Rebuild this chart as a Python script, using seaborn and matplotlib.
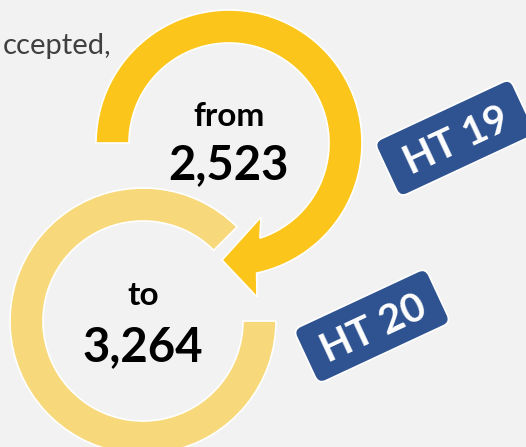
import numpy as np
import matplotlib
matplotlib.use('Agg')
import matplotlib.pyplot as plt
import seaborn as sns
from matplotlib.patches import Wedge, Polygon, FancyBboxPatch
from matplotlib.transforms import Affine2D

# values shown in the graphic
years = ['HT 19', 'HT 20']
values = [2523, 3264]
words = ['from', 'to']
caption = 'ccepted,'

ring_colors = ['#FCC51C', '#F7D97C']
badge_color = '#2F5391'
bg = '#F2F2F2'

sns.set_theme(style='white')
plt.rcParams['font.family'] = ['Lato', 'DejaVu Sans']

fig = plt.figure(figsize=(5.26, 4.47), dpi=100)
fig.patch.set_facecolor(bg)
ax = fig.add_axes([0, 0, 1, 1])
ax.set_xlim(0, 526)
ax.set_ylim(0, 447)
ax.set_facecolor(bg)
ax.axis('off')

R_OUT, R_IN = 133, 100

# lower (lighter) ring, drawn first
c2 = (143, 126)
ax.add_patch(Wedge(c2, R_OUT, 45, 360, width=R_OUT - R_IN,
                   facecolor=ring_colors[1], edgecolor='white', lw=1.2))

# upper ring with arrow head
c1 = (229, 304)
a_out = np.radians(np.linspace(180, -78, 200))
a_in = np.radians(np.linspace(-72, 180, 200))
outer = np.column_stack([c1[0] + R_OUT * np.cos(a_out), c1[1] + R_OUT * np.sin(a_out)])
inner = np.column_stack([c1[0] + R_IN * np.cos(a_in), c1[1] + R_IN * np.sin(a_in)])
head = np.array([[257, 150], [222, 187], [261, 230]])
pts = np.vstack([outer, head, inner])
ax.add_patch(Polygon(pts, closed=True, facecolor=ring_colors[0], edgecolor='white', lw=1.2))

# numbers in the rings
ax.text(c1[0], 321, words[0], ha='center', va='baseline', fontsize=24, fontweight='bold', color='black')
ax.text(c1[0], 268, f'{values[0]:,}', ha='center', va='baseline', fontsize=34, fontweight='bold', color='black')
ax.text(c2[0], 142, words[1], ha='center', va='baseline', fontsize=24, fontweight='bold', color='black')
ax.text(c2[0], 86, f'{values[1]:,}', ha='center', va='baseline', fontsize=34, fontweight='bold', color='black')

# year badges
badges = [((455, 309), 150, 61), ((372, 121), 146, 60)]
for label, ((cx, cy), w, h) in zip(years, badges):
    p = FancyBboxPatch((-w / 2 + 8, -h / 2 + 8), w - 16, h - 16,
                       boxstyle='round,pad=8', facecolor=badge_color, edgecolor='white', lw=1.2)
    p.set_transform(Affine2D().rotate_deg(25).translate(cx, cy) + ax.transData)
    ax.add_patch(p)
    ax.text(cx, cy, label, ha='center', va='center_baseline', rotation=25, rotation_mode='anchor',
            fontsize=29, fontweight='bold', color='white')

ax.text(3, 393, caption, ha='left', va='baseline', fontsize=21, color='#404040')

fig.savefig('out.png', dpi=100, facecolor=bg)
